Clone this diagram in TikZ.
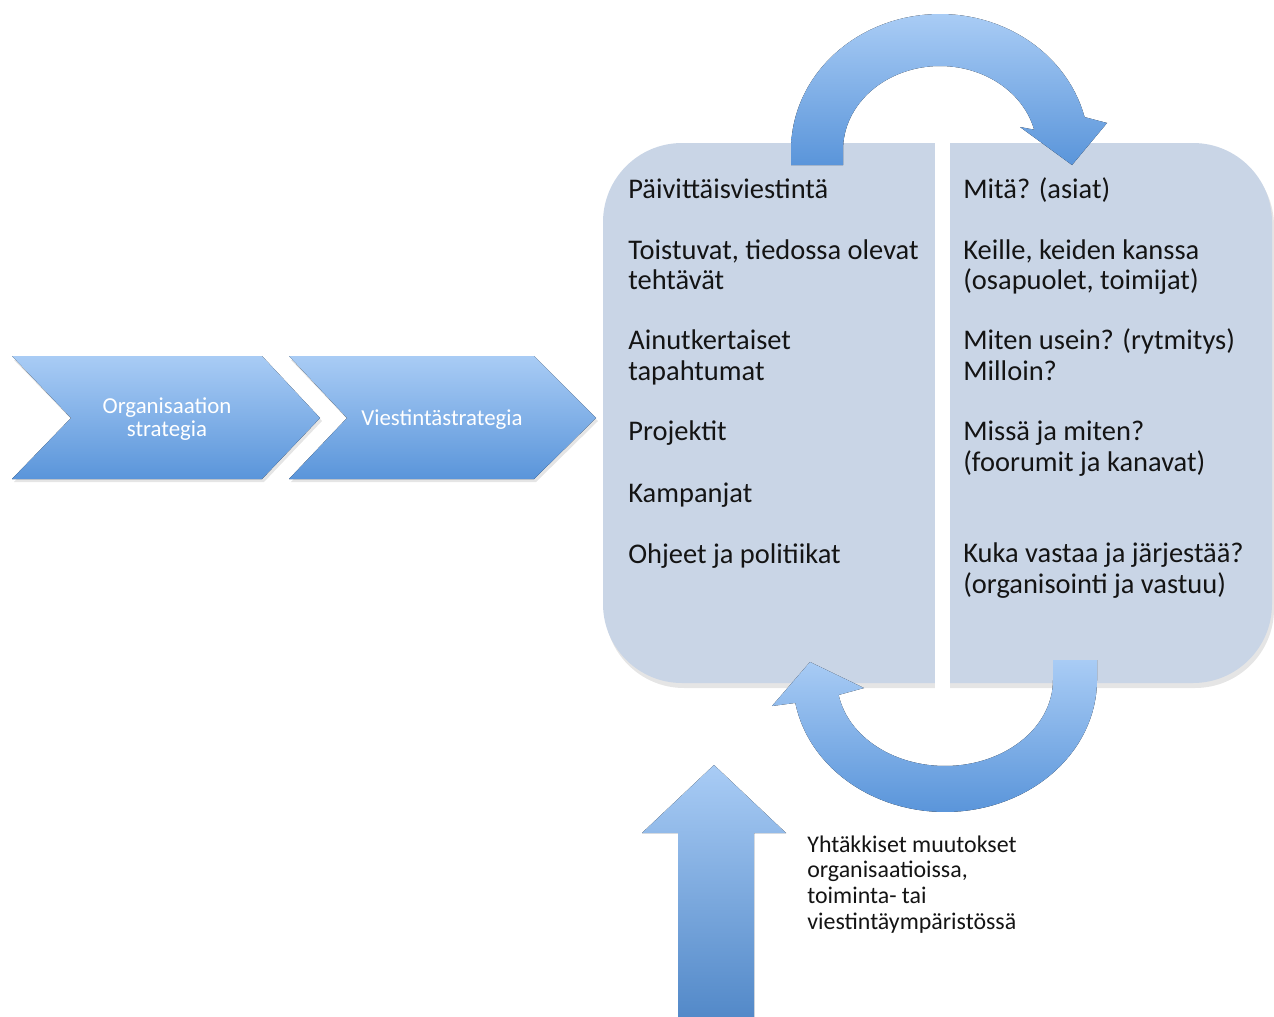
\documentclass[tikz,border=0pt]{standalone}
\usepackage{fontspec}
\setmainfont{Carlito}
\begin{document}
\begin{tikzpicture}[x=0.02cm,y=-0.02cm]
\definecolor{boxfill}{HTML}{C9D5E6}
\definecolor{alight}{HTML}{A9CCF5}
\definecolor{adark}{HTML}{5A95DA}
\definecolor{txt}{HTML}{141414}
\tikzset{
  arrowfill/.style={top color=alight,bottom color=adark,draw=none},
  shadowfill/.style={fill=black,opacity=0.10,draw=none},
  paneltext/.style={anchor=base west,font=\fontsize{16.2}{19}\selectfont,text=txt,inner sep=0},
  chevtext/.style={font=\fontsize{13}{13}\selectfont,text=white,align=center,inner sep=0},
  notetext/.style={anchor=base west,font=\fontsize{13.6}{15}\selectfont,text=txt,inner sep=0}
}
\useasboundingbox (0,0) rectangle (1274,1017);
\fill[white] (0,0) rectangle (1274,1017);

% chevrons
\fill[shadowfill] (14,360) -- (264,360) -- (322,421) -- (264,482) -- (14,482) -- (73,421) -- cycle;
\fill[shadowfill] (291,360) -- (536,360) -- (598,421) -- (536,482) -- (291,482) -- (349,421) -- cycle;
\fill[arrowfill] (12,356) -- (262,356) -- (320,418) -- (262,479) -- (12,479) -- (71,418) -- cycle;
\fill[arrowfill] (289,356) -- (534,356) -- (596,418) -- (534,479) -- (289,479) -- (347,418) -- cycle;
\node[chevtext] (org) at (167,419) {Organisaation\\[0.5pt]strategia};
\node[chevtext] (vs) at (442,420) {Viestintästrategia};

% main box
\fill[shadowfill,rounded corners=45] (605,147) rectangle (1274,688);
\fill[boxfill,rounded corners=45] (603,143) rectangle (1272,683);
\fill[white] (935,140) rectangle (950,690);
\coordinate (leftpanel) at (769,413);
\coordinate (rightpanel) at (1111,413);

% top curved arrow
\fill[arrowfill] (791,165) -- (791,150)
  -- plot[domain=180:14,samples=60] ({940+149*cos(\x)},{150-136*sin(\x)})
  -- (1107,123) -- (1072,165) -- (1020,127)
  -- plot[domain=14:180,samples=60] ({940+97*cos(\x)},{150-84*sin(\x)})
  -- (843,165) -- cycle;

% bottom curved arrow
\fill[arrowfill] (1097,660) -- (1097,680)
  -- plot[domain=0:170,samples=60] ({945+152*cos(\x)},{680+132*sin(\x)})
  -- (772,706) -- (810,662) -- (864,688)
  -- plot[domain=170:0,samples=60] ({945+108*cos(\x)},{680+86*sin(\x)})
  -- (1053,660) -- cycle;

% vertical arrow
\fill[arrowfill,bottom color=adark!92!black] (678,1017) -- (678,833) -- (642,833) -- (714,765) -- (786,833) -- (754,833) -- (754,1017) -- cycle;

% left panel text
\node[paneltext] (l1) at (628,198) {Päivittäisviestintä};
\node[paneltext] (l2a) at (628,259) {Toistuvat, tiedossa olevat};
\node[paneltext] (l2b) at (628,289) {tehtävät};
\node[paneltext] (l3a) at (628,349) {Ainutkertaiset};
\node[paneltext] (l3b) at (628,380) {tapahtumat};
\node[paneltext] (l4) at (628,440) {Projektit};
\node[paneltext] (l5) at (628,502) {Kampanjat};
\node[paneltext] (l6) at (628,563) {Ohjeet ja politiikat};

% right panel text
\node[paneltext] (r1) at (963,198) {Mitä? (asiat)};
\node[paneltext] (r2a) at (963,259) {Keille, keiden kanssa};
\node[paneltext] (r2b) at (963,289) {(osapuolet, toimijat)};
\node[paneltext] (r3a) at (963,349) {Miten usein? (rytmitys)};
\node[paneltext] (r3b) at (963,380) {Milloin?};
\node[paneltext] (r4a) at (963,440) {Missä ja miten?};
\node[paneltext] (r4b) at (963,471) {(foorumit ja kanavat)};
\node[paneltext] (r5a) at (963,562) {Kuka vastaa ja järjestää?};
\node[paneltext] (r5b) at (963,593) {(organisointi ja vastuu)};

% note
\node[notetext] (n1) at (807,852) {Yhtäkkiset muutokset};
\node[notetext] (n2) at (807,877) {organisaatioissa,};
\node[notetext] (n3) at (807,903) {toiminta- tai};
\node[notetext] (n4) at (807,929) {viestintäympäristössä};
\end{tikzpicture}
\end{document}
